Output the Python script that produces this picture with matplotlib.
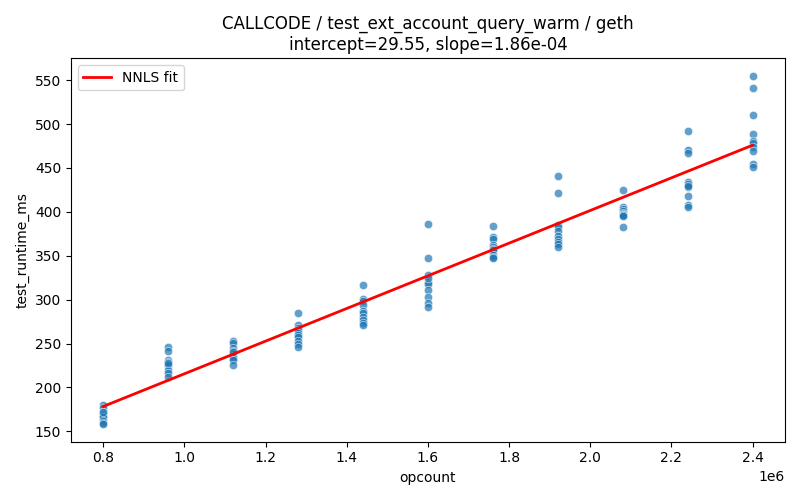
import numpy as np
import matplotlib
matplotlib.use("Agg")
import matplotlib.pyplot as plt
import seaborn as sns

opcounts = [800000, 960000, 1120000, 1280000, 1440000, 1600000,
            1760000, 1920000, 2080000, 2240000, 2400000]

runtimes = [
    [180, 177, 172, 170, 168, 166, 162, 160, 158, 172],
    [246, 242, 231, 229, 227, 225, 220, 216, 212, 228],
    [253, 251, 245, 241, 238, 236, 234, 231, 226, 240],
    [285, 271, 268, 265, 262, 260, 257, 253, 250, 246],
    [317, 301, 298, 294, 287, 285, 280, 277, 273, 271],
    [386, 347, 328, 320, 318, 311, 303, 296, 292, 325],
    [384, 371, 369, 362, 360, 358, 356, 351, 349, 348],
    [441, 422, 385, 383, 378, 372, 369, 366, 363, 360],
    [425, 405, 403, 401, 399, 398, 397, 396, 395, 383],
    [492, 470, 467, 434, 432, 428, 418, 408, 406, 430],
    [555, 541, 510, 489, 481, 478, 474, 469, 454, 451],
]

intercept = 29.55
slope = 1.86e-4

xs = []
ys = []
for oc, vals in zip(opcounts, runtimes):
    for v in vals:
        xs.append(oc)
        ys.append(v)

fig, ax = plt.subplots(figsize=(8, 5), dpi=100)
sns.scatterplot(x=xs, y=ys, alpha=0.7, ax=ax)

line_x = np.array([min(opcounts), max(opcounts)])
ax.plot(line_x, intercept + slope * line_x, color="red", linewidth=2, label="NNLS fit")

ax.set_xlabel("opcount")
ax.set_ylabel("test_runtime_ms")
ax.set_title("CALLCODE / test_ext_account_query_warm / geth\n"
             f"intercept={intercept:.2f}, slope={slope:.2e}")
ax.legend(loc="upper left")

plt.tight_layout()
plt.savefig("out.png")
